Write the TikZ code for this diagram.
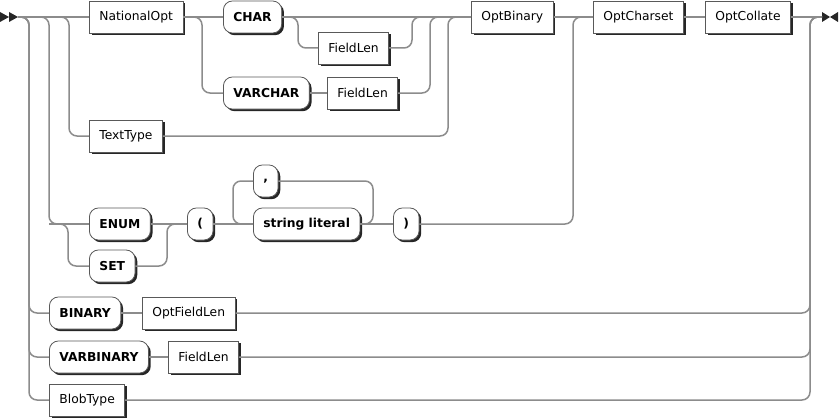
\documentclass[tikz,border=0pt]{standalone}
\usepackage{fontspec}
\setmainfont{DejaVu Sans}
\usetikzlibrary{shadows}
\tikzset{
    x=1pt, y=-1pt, % one unit is one pixel of the sketch, y runs downwards
    rail/.style={draw=gray!90, line width=1.5pt, rounded corners=8pt}, % the tracks
    nonterm/.style={draw=black!65, fill=white, line width=0.8pt, anchor=west,
        minimum height=32pt, inner xsep=10pt,
        font=\fontsize{12.3}{14}\selectfont,
        general shadow={fill=black!85, shadow xshift=2.2pt, shadow yshift=-2.2pt}}, % rule references
    term/.style={nonterm, rounded corners=9pt, font=\fontsize{12.3}{14}\selectfont\bfseries}, % keywords
    tip/.style={fill=black!85}, % start and end marks
}

\begin{document}
\begin{tikzpicture}
    \useasboundingbox (0,0) rectangle (840,420);

    \coordinate (in) at (18,17);
    \coordinate (out) at (822,17);
    \fill[tip] (0,12) -- (9,17) -- (0,22) -- cycle (9,12) -- (18,17) -- (9,22) -- cycle;
    \fill[tip] (822,12) -- (830,17) -- (822,22) -- cycle (838,12) -- (830,17) -- (838,22) -- cycle;

    % tracks first, boxes on top of them
    \draw[rail] (in) -- (100,17);
    \draw[rail] (in) -| (69,136) -- (100,136);
    \draw[rail] (in) -| (49,224) -| (68,266) -- (100,266);
    \draw[rail] (49,224) -- (100,224);
    \draw[rail] (in) -| (29,313) -- (60,313);
    \draw[rail] (in) -| (29,357) -- (60,357);
    \draw[rail] (in) -| (29,400) -- (60,400);

    \node[nonterm] (natopt) at (89,17) {NationalOpt};
    \node[term] (char) at (223,17) {CHAR};
    \node[nonterm] (flenA) at (318,48) {FieldLen};
    \node[term] (varchar) at (223,93) {VARCHAR};
    \node[nonterm] (flenB) at (327,93) {FieldLen};
    \node[nonterm] (texttype) at (89,136) {TextType};
    \node[nonterm] (optbinary) at (471,17) {OptBinary};
    \node[nonterm] (optcharset) at (593,17) {OptCharset};
    \node[nonterm] (optcollate) at (705,17) {OptCollate};
    \node[term] (enum) at (89,224) {ENUM};
    \node[term] (set) at (89,266) {SET};
    \node[term] (lparen) at (187,224) {(};
    \node[term] (comma) at (253,181) {,};
    \node[term] (strlit) at (253,224) {string literal};
    \node[term] (rparen) at (393,224) {)};
    \node[term] (binary) at (49,313) {BINARY};
    \node[nonterm] (optflen) at (142,313) {OptFieldLen};
    \node[term] (varbinary) at (49,357) {VARBINARY};
    \node[nonterm] (flenC) at (168,357) {FieldLen};
    \node[nonterm] (blobtype) at (49,400) {BlobType};

    % string type branch
    \draw[rail] (natopt.east) -- (char.west);
    \draw[rail] (natopt.east) -| (202,93) -- (varchar.west);
    \draw[rail] (char.east) -- (optbinary.west);
    \draw[rail] (char.east) -| (298,48) -- (flenA.west);
    \draw[rail] (flenA.east) -| (412,17) -- (430,17);
    \draw[rail] (varchar.east) -- (flenB.west);
    \draw[rail] (flenB.east) -| (430,17) -- (448,17);
    \draw[rail] (texttype.east) -| (448,17) -- (optbinary.west);

    % enum and set
    \draw[rail] (enum.east) -- (lparen.west);
    \draw[rail] (set.east) -| (167,224) -- (lparen.west);
    \draw[rail] (lparen.east) -- (strlit.west);
    \draw[rail] (strlit.east) -| (373,181) -- (comma.east);
    \draw[rail] (comma.west) -| (233,224) -- (strlit.west);
    \draw[rail] (strlit.east) -- (rparen.west);
    \draw[rail] (rparen.east) -| (573,17) -- (optcharset.west);

    \draw[rail] (optbinary.east) -- (optcharset.west);
    \draw[rail] (optcharset.east) -- (optcollate.west);
    \draw[rail] (optcollate.east) -- (out);

    % binary types
    \draw[rail] (binary.east) -- (optflen.west);
    \draw[rail] (optflen.east) -| (810,17) -- (out);
    \draw[rail] (varbinary.east) -- (flenC.west);
    \draw[rail] (flenC.east) -| (810,17) -- (out);
    \draw[rail] (blobtype.east) -| (810,17) -- (out);
\end{tikzpicture}
\end{document}
